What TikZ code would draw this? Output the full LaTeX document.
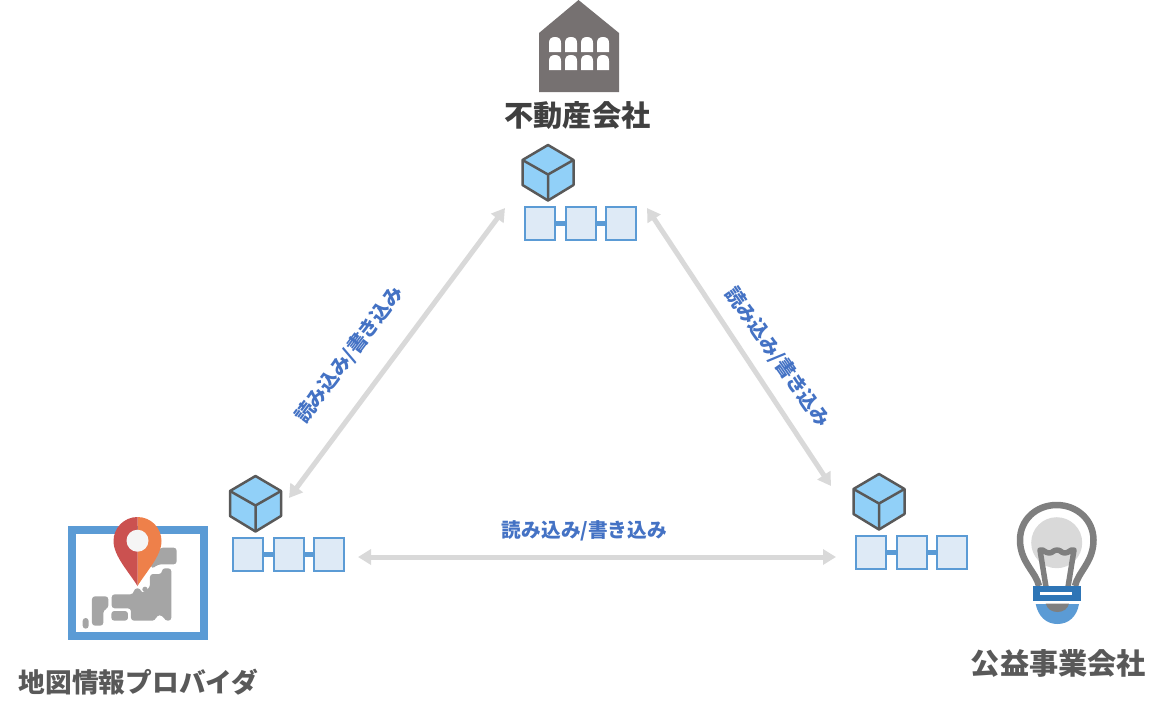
\documentclass[tikz,border=0pt]{standalone}
\usepackage{fontspec}
\newfontfamily\cjk{Noto Sans CJK JP}
\usetikzlibrary{arrows.meta}
\definecolor{blueA}{HTML}{5B9BD5}
\definecolor{blueB}{HTML}{2E75B6}
\definecolor{boxfill}{HTML}{DEEAF6}
\definecolor{cubefill}{HTML}{91D0F8}
\definecolor{cubeline}{HTML}{595959}
\definecolor{arrowgrey}{HTML}{D9D9D9}
\definecolor{labelblue}{HTML}{4472C4}
\definecolor{bldg}{HTML}{767171}
\definecolor{mapgrey}{HTML}{A5A5A5}
\definecolor{bulbgrey}{HTML}{7F7F7F}
\definecolor{pinred}{HTML}{CB5150}
\definecolor{pinorange}{HTML}{EE804A}
\tikzset{
  x=1pt,y=-1pt,
  storebox/.style={draw=blueA,fill=boxfill,line width=2pt,minimum width=30.5pt,minimum height=32.5pt,inner sep=0pt,outer sep=0pt},
  storelink/.style={draw=blueA,line width=5.5pt},
  cubeedge/.style={draw=cubeline,line width=2.5pt,line join=round},
  flow/.style={draw=arrowgrey,line width=5pt,{Triangle[length=13pt,width=15pt]}-{Triangle[length=13pt,width=15pt]}},
  flowlabel/.style={text=labelblue,font=\cjk\bfseries\fontsize{19.7}{21}\selectfont,inner sep=0pt},
  actorlabel/.style={font=\cjk\bfseries\fontsize{29.2}{32}\selectfont,inner sep=0pt},
  mapland/.style={fill=mapgrey,rounded corners=3pt},
}
% #1 name prefix, #2 x of cube apex, #3 y of cube apex, #4 x of first box centre, #5 y of box centre
\newcommand{\storegroup}[5]{%
  \begin{scope}[shift={(#2,#3)}]
    \fill[cubefill] (0,0) -- (25.5,15) -- (25.5,40) -- (0,55.5) -- (-25.5,40) -- (-25.5,15) -- cycle;
    \draw[cubeedge] (0,0) -- (25.5,15) -- (25.5,40) -- (0,55.5) -- (-25.5,40) -- (-25.5,15) -- cycle;
    \draw[cubeedge] (-25.5,15) -- (0,29.5) -- (25.5,15) (0,29.5) -- (0,55.5);
  \end{scope}
  \node[storebox] (#1a) at (#4,#5) {};
  \node[storebox] (#1b) at (#4+41,#5) {};
  \node[storebox] (#1c) at (#4+81,#5) {};
  \draw[storelink] (#1a) -- (#1b);
  \draw[storelink] (#1b) -- (#1c);
}
\begin{document}
\begin{tikzpicture}
\useasboundingbox (0,0) rectangle (1162,716);

% building
\fill[bldg] (578.5,0) -- (619,33) -- (619,92) -- (539,92) -- (539,33) -- cycle;
\foreach \wx in {549,565,581,597}{
  \foreach \wy in {37,55}{
    \fill[white] (\wx,\wy+15) -- (\wx,\wy+6) .. controls (\wx,\wy+2) and (\wx+2,\wy) .. (\wx+6,\wy) .. controls (\wx+10,\wy) and (\wx+12,\wy+2) .. (\wx+12,\wy+6) -- (\wx+12,\wy+15) -- cycle;
  }
}
\node[actorlabel,text=black!75] (company) at (577.5,116) {不動産会社};

% map icon
\draw[blueA,line width=8pt] (71.7,530) rectangle (203.7,636);
\begin{scope}[shift={(50,500)},x=0.3333pt,y=-0.3333pt]
  \fill[mapland] (330,143) -- (380,143) -- (380,193) -- (325,193) -- (305,207) -- (302,190) -- cycle;
  \fill[mapland] (336,205) -- (364,205) -- (364,362) -- (345,362) -- (338,346) -- (320,346) -- (316,362) -- (243,362) -- (243,325) -- (185,325) -- (185,283) -- (250,283) -- (253,265) -- (272,265) -- (275,281) -- (300,262) -- (300,222) -- (336,222) -- cycle;
  \fill[mapland] (126,289) -- (175,289) -- (175,325) -- (160,330) -- (160,377) -- (126,377) -- cycle;
  \fill[mapland] (184,333) -- (234,333) -- (234,362) -- (184,362) -- cycle;
  \fill[mapland] (98,354) -- (116,354) -- (116,386) -- (98,386) -- cycle;
  \fill[mapgrey] (285,268) circle (8);
\end{scope}
\fill[pinorange] (137.5,517) .. controls (151,517) and (161.5,528) .. (161.5,541) .. controls (161.5,556) and (146,572) .. (137.5,586) -- cycle;
\fill[pinred] (137.5,517) .. controls (124,517) and (113.5,528) .. (113.5,541) .. controls (113.5,556) and (129,572) .. (137.5,586) -- cycle;
\fill[white!96!black] (137.5,540.7) circle (11);
\node[text=black!65,font=\cjk\bfseries\fontsize{26.7}{30}\selectfont,inner sep=0pt] (provider) at (138.5,682) {地図情報プロバイダ};

% bulb icon
\fill[arrowgrey] (1056.7,542.7) circle (25.5);
\draw[bulbgrey,line width=6.5pt,line join=round] (1039,586) .. controls (1036,572) and (1020,562) .. (1020,540) .. controls (1020,520) and (1036,505) .. (1056.7,505) .. controls (1077,505) and (1093.5,520) .. (1093.5,540) .. controls (1093.5,562) and (1078,572) .. (1075,586);
\draw[bulbgrey,line width=5.5pt,line join=round] (1046,587) -- (1040,550) .. controls (1044,549) and (1045,553) .. (1049,553) .. controls (1053,553) and (1053,550) .. (1057,550) .. controls (1061,550) and (1061,553) .. (1065,553) .. controls (1069,553) and (1070,549) .. (1074,550) -- (1068,587);
\fill[blueB] (1032.7,586) rectangle (1081,601);
\fill[white] (1040,591.7) rectangle (1071.7,595.3);
\fill[blueA] (1035.7,604) .. controls (1038,616) and (1046,624) .. (1057.4,624) .. controls (1069,624) and (1077,616) .. (1079,604) -- cycle;
\fill[bulbgrey] (1045.7,603.5) .. controls (1047,609) and (1052,612) .. (1057.4,612) .. controls (1063,612) and (1068,609) .. (1069,603.5) -- cycle;
\node[actorlabel,text=black!65] (utility) at (1058.5,663) {公益事業会社};

% stores
\storegroup{top}{548}{145}{540}{223.5}
\storegroup{left}{255.5}{476}{248}{554.5}
\storegroup{right}{879}{474}{871}{552.5}

% connectors
\coordinate (topSW) at (505,208);
\coordinate (topSE) at (647,208);
\coordinate (leftNE) at (289,498);
\coordinate (leftE) at (358,557);
\coordinate (rightNW) at (831,486);
\coordinate (rightW) at (836,557);
\draw[flow] (topSW) -- (leftNE);
\draw[flow] (topSE) -- (rightNW);
\draw[flow] (leftE) -- (rightW);

\node[flowlabel,rotate=53] (labelL) at (349.5,355) {読み込み/書き込み};
\node[flowlabel,rotate=-55] (labelR) at (777.5,357.5) {読み込み/書き込み};
\node[flowlabel] (labelB) at (584.5,531) {読み込み/書き込み};
\end{tikzpicture}
\end{document}
